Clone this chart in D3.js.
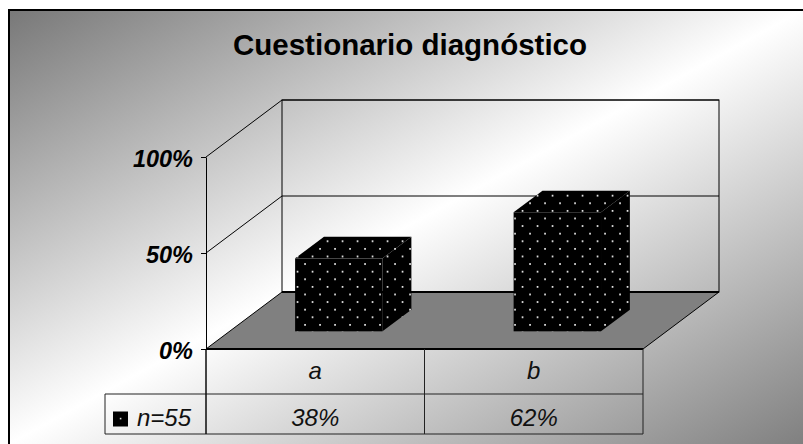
<!DOCTYPE html>
<html>
<head>
<meta charset="utf-8">
<script src="https://cdn.jsdelivr.net/npm/d3@7"></script>
<style>
  html, body { margin: 0; padding: 0; background: #fff; }
  svg { display: block; }
</style>
</head>
<body>
<svg id="chart" width="803" height="444"></svg>
<script>
// Chart content
const title = "Cuestionario diagnóstico";
const categories = ["a", "b"];
const values = [0.38, 0.62];
const seriesName = "n=55";
const yTicks = [0, 0.5, 1];

const svg = d3.select("#chart");
const defs = svg.append("defs");

// Diagonal grey-white-grey background
const grad = defs.append("linearGradient")
  .attr("id", "bg").attr("x1", 0).attr("y1", 0).attr("x2", 1).attr("y2", 1);
grad.append("stop").attr("offset", 0).attr("stop-color", "#787878");
grad.append("stop").attr("offset", 0.5).attr("stop-color", "#ffffff");
grad.append("stop").attr("offset", 1).attr("stop-color", "#808080");

// Black fill with a staggered grid of white dots
const pat = defs.append("pattern")
  .attr("id", "dots").attr("patternUnits", "userSpaceOnUse")
  .attr("x", 0).attr("y", 0).attr("width", 15).attr("height", 15.2);
pat.append("rect").attr("width", 15).attr("height", 15.2).attr("fill", "#000");
pat.append("rect").attr("x", 4.2).attr("y", 4.8).attr("width", 1.7).attr("height", 1.7).attr("fill", "#f2f2f2");
pat.append("rect").attr("x", 11.7).attr("y", 12.4).attr("width", 1.7).attr("height", 1.7).attr("fill", "#f2f2f2");

svg.append("rect").attr("x", 9).attr("y", 10).attr("width", 794).attr("height", 434)
  .attr("fill", "url(#bg)");
svg.append("rect").attr("x", 9).attr("y", 10).attr("width", 900).attr("height", 600)
  .attr("fill", "none").attr("stroke", "#000").attr("stroke-width", 2);

// Scales: front plane of the 3D box
const x = d3.scaleBand().domain(categories).range([206, 643]).padding(0);
const y = d3.scaleLinear().domain([0, 1]).range([349, 157]);
const DX = 76, DY = 57;           // depth projection of the whole floor
const depth0 = 0.31, depth1 = 0.69; // bar depth within the floor
const barFrac = 0.4;

const x0 = x.range()[0], x1 = x.range()[1];
const yTop = y(1), yBase = y(0);
const line = (g, pts, w = 1, col = "#000") => g.append("polyline")
  .attr("points", pts.map(p => p.join(",")).join(" "))
  .attr("fill", "none").attr("stroke", col).attr("stroke-width", w);

const box = svg.append("g");

// Walls: back wall and left side wall outlines, plus gridlines
box.append("rect")
  .attr("x", x0 + DX).attr("y", yTop - DY)
  .attr("width", x1 - x0).attr("height", yBase - yTop)
  .attr("fill", "none").attr("stroke", "#000").attr("stroke-width", 1);
yTicks.filter(t => t > 0).forEach(t => {
  line(box, [[x0, y(t)], [x0 + DX, y(t) - DY], [x1 + DX, y(t) - DY]]);
});

// Floor
box.append("polygon")
  .attr("points", [[x0, yBase], [x1, yBase], [x1 + DX, yBase - DY], [x0 + DX, yBase - DY]].join(" "))
  .attr("fill", "#808080").attr("stroke", "#000").attr("stroke-width", 1);
line(box, [[x0 + DX, yBase - DY], [x1 + DX, yBase - DY]], 2);
line(box, [[x0, yBase], [x1, yBase]], 2);

// Bars
const bars = svg.append("g");
categories.forEach((c, i) => {
  const w = x.bandwidth() * barFrac;
  const bx = x(c) + (x.bandwidth() - w) / 2 + DX * depth0;
  const top = y(values[i]) - DY * depth0;
  const bot = y(0) - DY * depth0;
  const ddx = DX * (depth1 - depth0), ddy = DY * (depth1 - depth0);
  const g = bars.append("g").attr("fill", "url(#dots)");
  g.append("rect").attr("x", bx).attr("y", top).attr("width", w).attr("height", bot - top);
  g.append("polygon").attr("points",
    [[bx, top], [bx + ddx, top - ddy], [bx + w + ddx, top - ddy], [bx + w, top]].join(" "));
  g.append("polygon").attr("points",
    [[bx + w, top], [bx + w + ddx, top - ddy], [bx + w + ddx, bot - ddy], [bx + w, bot]].join(" "));
});

// Data table under the floor
const rowTop = yBase, rowMid = 394, rowBot = 434, keyLeft = 105;
const tbl = svg.append("g").attr("stroke", "#222").attr("stroke-width", 1).attr("fill", "none");
tbl.append("line").attr("x1", keyLeft).attr("x2", x1).attr("y1", rowMid).attr("y2", rowMid);
tbl.append("line").attr("x1", keyLeft).attr("x2", x1).attr("y1", rowBot).attr("y2", rowBot);
tbl.append("line").attr("x1", keyLeft).attr("x2", keyLeft).attr("y1", rowMid).attr("y2", rowBot);
[x0, ...categories.map(c => x(c) + x.bandwidth())].forEach(xx => {
  tbl.append("line").attr("x1", xx).attr("x2", xx).attr("y1", rowTop).attr("y2", rowBot);
});

const txt = svg.append("g")
  .attr("font-family", "Arial, 'Liberation Sans', sans-serif")
  .attr("font-style", "italic").attr("font-size", 24).attr("fill", "#111")
  .attr("text-anchor", "middle");
categories.forEach((c, i) => {
  const cx = x(c) + x.bandwidth() / 2;
  txt.append("text").attr("x", cx).attr("y", 379).text(c);
  txt.append("text").attr("x", cx).attr("y", 426).text(d3.format(".0%")(values[i]));
});
txt.append("text").attr("x", 137).attr("y", 426).attr("text-anchor", "start").text(seriesName);
svg.append("rect").attr("x", 113).attr("y", 411.5).attr("width", 15).attr("height", 15).attr("fill", "#000");
svg.append("rect").attr("x", 119.8).attr("y", 417.8).attr("width", 1.6).attr("height", 1.6).attr("fill", "#ddd");

// Value axis
const axis = svg.append("g").attr("transform", `translate(${x0},0)`)
  .call(d3.axisLeft(y).tickValues(yTicks).tickFormat(d3.format(".0%"))
    .tickSize(5).tickSizeOuter(0).tickPadding(8));
axis.select(".domain").attr("stroke", "#000");
axis.selectAll(".tick line").attr("stroke", "#000");
axis.selectAll(".tick text")
  .attr("font-family", "Arial, 'Liberation Sans', sans-serif")
  .attr("font-size", 23.5).attr("font-weight", "bold").attr("font-style", "italic")
  .attr("fill", "#000").attr("dy", "0.42em");
line(svg, [[x0, yBase], [x0, rowBot]]);

// Title
svg.append("text").attr("x", 410).attr("y", 55).attr("text-anchor", "middle")
  .attr("font-family", "Arial, 'Liberation Sans', sans-serif")
  .attr("font-size", 29.5).attr("font-weight", "bold").attr("fill", "#000")
  .text(title);
</script>
</body>
</html>
